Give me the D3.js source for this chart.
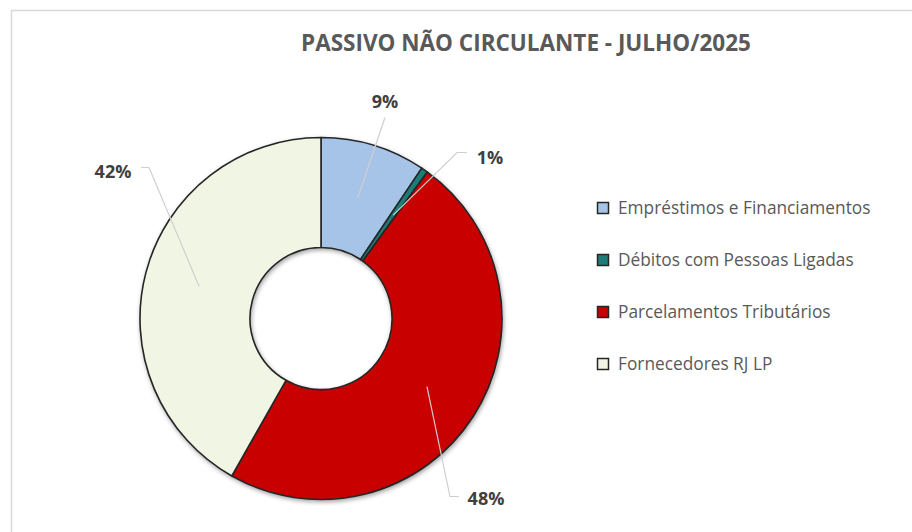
<!DOCTYPE html>
<html>
<head>
<meta charset="utf-8">
<script src="https://cdn.jsdelivr.net/npm/d3@7"></script>
<style>
  body { margin: 0; background: #fff; }
  svg { display: block; }
</style>
</head>
<body>
<svg id="chart" width="912" height="532"></svg>
<script>
// data
var categories = ["Empréstimos e Financiamentos", "Débitos com Pessoas Ligadas", "Parcelamentos Tributários", "Fornecedores RJ LP"];
var values = [9.4, 0.6, 48.2, 41.8];
var pctLabels = ["9%", "1%", "48%", "42%"];
var colors = ["#a6c3e8", "#1e7c78", "#c80000", "#f1f6e4"];

var svg = d3.select("#chart");

// frame
svg.append("path")
  .attr("d", "M11.5,532 V10.5 H912")
  .attr("fill", "none")
  .attr("stroke", "#d9d9d9")
  .attr("stroke-width", 1.5);

// title
svg.append("text")
  .attr("x", 526)
  .attr("y", 51)
  .attr("text-anchor", "middle")
  .style("font", "bold 22.5px 'Open Sans', sans-serif")
  .style("fill", "#595959")
  .text("PASSIVO NÃO CIRCULANTE - JULHO/2025");

var cx = 321, cy = 318.5;
var outerR = 181, innerR = 71;

var defs = svg.append("defs");
var shadow = defs.append("filter").attr("id", "shadow")
  .attr("x", "-20%").attr("y", "-20%").attr("width", "140%").attr("height", "140%");
shadow.append("feDropShadow")
  .attr("dx", 1).attr("dy", 2).attr("stdDeviation", 2)
  .attr("flood-color", "#000").attr("flood-opacity", 0.35);

var pie = d3.pie().sort(null).value(d => d);
var arcs = pie(values);

var arc = d3.arc().innerRadius(innerR).outerRadius(outerR);
var midArc = d3.arc().innerRadius((innerR + outerR) / 2).outerRadius((innerR + outerR) / 2);

var g = svg.append("g").attr("transform", `translate(${cx},${cy})`);

g.append("g")
  .attr("filter", "url(#shadow)")
  .selectAll("path")
  .data(arcs)
  .enter()
  .append("path")
  .attr("d", arc)
  .attr("fill", (d, i) => colors[i])
  .attr("stroke", "#262626")
  .attr("stroke-width", 1.6)
  .attr("stroke-linejoin", "round");

// label placement (offsets from chart centre) and leader elbow
var labelPos = [
  { x: 64, y: -211, elbow: null, anchor: [64, -201] },
  { x: 169, y: -155, elbow: [136, -166], anchor: [146, -166] },
  { x: 165, y: 186, elbow: [129, 178], anchor: [138, 178] },
  { x: -208, y: -141, elbow: [-172, -151], anchor: [-180, -151] }
];

arcs.forEach(function(d, i) {
  var c = midArc.centroid(d);
  var p = labelPos[i];
  var pts = [c];
  if (p.elbow) pts.push(p.elbow);
  pts.push(p.anchor);
  g.append("path")
    .attr("d", d3.line()(pts))
    .attr("fill", "none")
    .attr("stroke", "#cfcfcf")
    .attr("stroke-width", 1.2);
  g.append("text")
    .attr("x", p.x)
    .attr("y", p.y)
    .attr("text-anchor", "middle")
    .style("font", "bold 18px 'Open Sans', sans-serif")
    .style("fill", "#404040")
    .text(pctLabels[i]);
});

// legend
var legendY = d3.scalePoint().domain(categories).range([208, 364]);
var legend = svg.append("g");
categories.forEach(function(c, i) {
  var y = legendY(c);
  legend.append("rect")
    .attr("x", 597.5)
    .attr("y", y - 5.5)
    .attr("width", 11)
    .attr("height", 11)
    .attr("fill", colors[i])
    .attr("stroke", "#262626")
    .attr("stroke-width", 1.5);
  legend.append("text")
    .attr("x", 618)
    .attr("y", y + 6)
    .style("font", "17.3px 'Open Sans', sans-serif")
    .style("fill", "#595959")
    .text(c);
});
</script>
</body>
</html>
